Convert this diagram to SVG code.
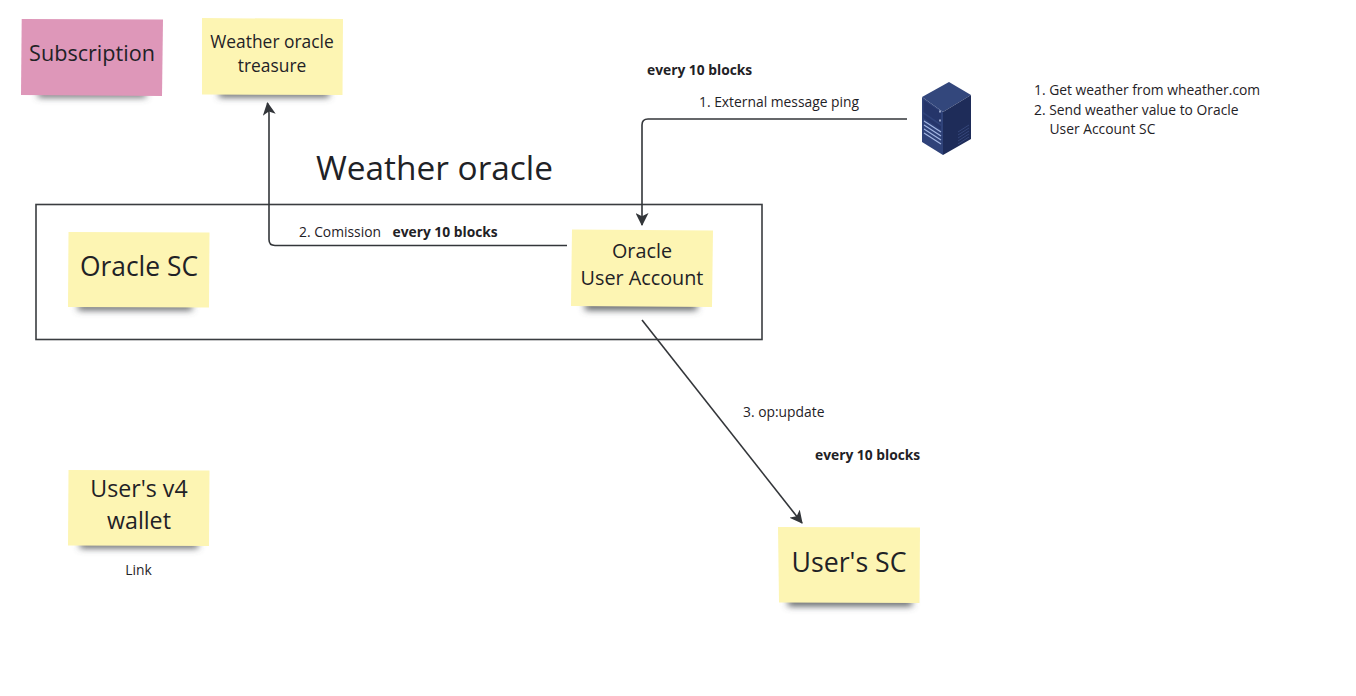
<svg xmlns="http://www.w3.org/2000/svg" width="1356" height="696" viewBox="0 0 1356 696">
<style>
text{font-family:"Open Sans","Noto Sans","Liberation Sans",sans-serif;fill:#1f2226}
.s{fill:#fdf5b3}.p{fill:#de97b9}
.sh{fill:#55585c;filter:url(#b)}
.t{font-size:26.400px;text-anchor:middle}
.m{font-size:19.800px;text-anchor:middle}
.l{font-size:13.850px}
.b{font-size:13.800px;font-weight:700}
.c{fill:none;stroke:#33363a;stroke-width:1.600}
</style>
<defs>
<filter id="b" x="-20%" y="-300%" width="140%" height="700%"><feGaussianBlur stdDeviation="3.500"/></filter>
<marker id="a" viewBox="0 0 12 12" refX="11" refY="6" markerWidth="13" markerHeight="13" markerUnits="userSpaceOnUse" orient="auto"><path d="M0 0L12 6L0 12L3 6Z" fill="#33363a"/></marker>
</defs>
<rect x="36" y="204.500" width="726" height="135" fill="#fff" stroke="#3a3d40" stroke-width="1.600"/>
<g id="connectors">
<path class="c" d="M907 119H648Q642 119 642 125V225" marker-end="url(#a)"/>
<path class="c" d="M567 245.500H275Q269 245.500 269 239.500V113L267.500 103" marker-end="url(#a)"/>
<path class="c" d="M642 320L802 523" marker-end="url(#a)"/>
</g>
<g id="subscription"><rect class="sh" x="38" y="91" width="108" height="6"/><path class="p" d="M21.700 19L163 19.500L162 96L21 95Z"/><text x="92" y="61" text-anchor="middle" font-size="21.600">Subscription</text></g>
<g id="treasure"><rect class="sh" x="219" y="90" width="110" height="7"/><path class="s" d="M202 18L343 19L342.500 95L202 94.500Z"/><text x="272" y="48" text-anchor="middle" font-size="17.400">Weather oracle</text><text x="272" y="72" text-anchor="middle" font-size="17.400">treasure</text></g>
<text id="title" x="434.500" y="180" text-anchor="middle" font-size="33.400">Weather oracle</text>
<g id="oracle-sc"><rect class="sh" x="78" y="303" width="114" height="7"/><path class="s" d="M68.500 232L209.500 232.500L209 307.500L68 307Z"/><text class="t" x="139" y="276">Oracle SC</text></g>
<g id="oracle-user-account"><rect class="sh" x="585" y="302" width="112" height="8"/><path class="s" d="M572 229.500L713 230.500L712 307L571 306Z"/><text class="m" x="642" y="258">Oracle</text><text class="m" x="642" y="285">User Account</text></g>
<g id="users-wallet"><rect class="sh" x="80" y="541" width="118" height="7"/><path class="s" d="M68.500 470L209.500 470.500L209 546L68 545.500Z"/><text x="139" y="497" text-anchor="middle" font-size="23.200">User's v4</text><text x="139" y="529" text-anchor="middle" font-size="23.200">wallet</text></g>
<g id="users-sc"><rect class="sh" x="788" y="598" width="124" height="8"/><path class="s" d="M778 527L920 527.500L919.500 603L779 602.500Z"/><text x="849" y="572" text-anchor="middle" font-size="26.700">User's SC</text></g>
<g id="server">
<path d="M922 97L949 82L971 95L943 112Z" fill="#33477c"/>
<path d="M922 97L943 112V155L922 142Z" fill="#2f4279"/>
<path d="M943 112L971 95V139L943 155Z" fill="#1e2c59"/>
<path d="M923.500 100L941 112V124L923.500 112ZM923.500 114L941 126V130L923.500 118Z" fill="#25356a"/>
<path d="M924 121L941 132M924 125L941 136M924 129L941 140M924 133L941 144" stroke="#a3b6e2" stroke-width="1.200"/>
<path d="M958 132L969 125M958 135L969 128M958 138L969 131M958 141L969 134M958 144L969 137" stroke="#34467a" stroke-width="1"/>
<path d="M940 110.500v2M940 119.500v2" stroke="#b9c6e8" stroke-width="1.500"/>
</g>
<g id="labels">
<text class="b" x="647" y="75">every 10 blocks</text>
<text class="l" x="699" y="107">1. External message ping</text>
<text class="l" x="1034" y="94.500">1. Get weather from wheather.com</text>
<text class="l" x="1034" y="115">2. Send weather value to Oracle</text>
<text class="l" x="1049.500" y="134">User Account SC</text>
<text class="l" x="299" y="237">2. Comission</text>
<text class="b" x="392.500" y="236.500">every 10 blocks</text>
<text class="l" x="743" y="417">3. op:update</text>
<text class="b" x="815" y="460">every 10 blocks</text>
<text class="l" x="138.500" y="575" text-anchor="middle">Link</text>
</g>
</svg>
